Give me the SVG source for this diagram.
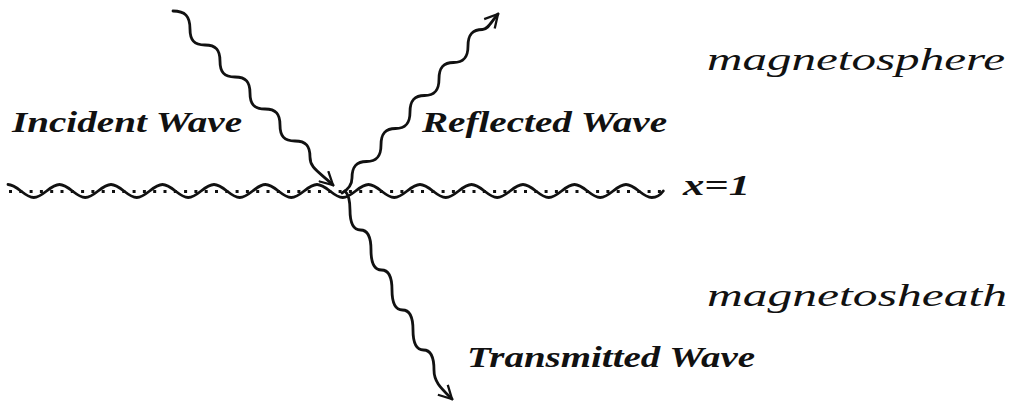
<svg xmlns="http://www.w3.org/2000/svg" width="1019" height="403" viewBox="0 0 1019 403">
  <style>
    .wave { fill: none; stroke: #111; stroke-width: 2.8; stroke-linecap: round; stroke-linejoin: round; }
    .dots { fill: none; stroke: #111; stroke-width: 3; stroke-dasharray: 3 7.3; }
    .lbl { font-family: "Liberation Serif", "Times New Roman", serif; font-style: italic; font-weight: bold; font-size: 30px; fill: #111; }
    .region { font-family: "Liberation Serif", "Times New Roman", serif; font-style: italic; font-size: 32px; fill: #111; }
  </style>
  <defs>
    <marker id="vhead" markerUnits="userSpaceOnUse" viewBox="0 0 16 16" markerWidth="16" markerHeight="16" refX="14" refY="8" orient="auto">
      <path d="M1,1 L14,8 L1,15" fill="none" stroke="#111" stroke-width="2.3" stroke-linejoin="miter"/>
    </marker>
  </defs>
  <rect width="1019" height="403" fill="#fff"/>

  <g id="boundary">
    <line class="dots" x1="9" y1="191.5" x2="666" y2="191.5"/>
    <path class="wave" d="M8,184.5 c9.3,0 16.45,13 25.75,13 c9.3,0 16.45,-13 25.75,-13 c9.3,0 16.45,13 25.75,13 c9.3,0 16.45,-13 25.75,-13 c9.3,0 16.45,13 25.75,13 c9.3,0 16.45,-13 25.75,-13 c9.3,0 16.45,13 25.75,13 c9.3,0 16.45,-13 25.75,-13 c9.3,0 16.45,13 25.75,13 c9.3,0 16.45,-13 25.75,-13 c9.3,0 16.45,13 25.75,13 c9.3,0 16.45,-13 25.75,-13 c9.3,0 16.45,13 25.75,13 c9.3,0 16.45,-13 25.75,-13 c9.3,0 16.45,13 25.75,13 c9.3,0 16.45,-13 25.75,-13 c9.3,0 16.45,13 25.75,13 c9.3,0 16.45,-13 25.75,-13 c9.3,0 16.45,13 25.75,13 c9.3,0 16.45,-13 25.75,-13 c9.3,0 16.45,13 25.75,13 c9.3,0 16.45,-13 25.75,-13 c9.3,0 16.45,13 25.75,13 c9.3,0 16.45,-13 25.75,-13 c9.3,0 16.45,13 25.75,13 c5,0 9,-3 11.5,-6.5"/>
  </g>

  <g id="connectors">
    <path id="incident-wave" class="wave" marker-end="url(#vhead)" d="M173,11 c12,0 17,5 17,18 c0,11 4,16 15,16 c11,0 15,5 15,16 c0,11 4,16 15,16 c11,0 15,5 15,16 c0,11 4,16 15,16 c11,0 15,5 15,16 c0,11 4,16 15,16 c11,0 15,5 15,16 C310,168 318,171 333,185"/>
    <path id="reflected-wave" class="wave" marker-end="url(#vhead)" d="M342,193 C349,189 352,184 352,178 c0,-11 4,-16.5 14.5,-16.5 c10.5,0 14.5,-5.5 14.5,-16.5 c0,-11 4,-16.5 14.5,-16.5 c10.5,0 14.5,-5.5 14.5,-16.5 c0,-11 4,-16.5 14.5,-16.5 c10.5,0 14.5,-5.5 14.5,-16.5 c0,-11 4,-16.5 14.5,-16.5 c10.5,0 14.5,-5.5 14.5,-16.5 c0,-11 4,-16.5 14.5,-16.5 C488,29.5 491,22 498,14"/>
    <path id="transmitted-wave" class="wave" marker-end="url(#vhead)" d="M345,191 C349,195 350,202 350,210 c0,13 3.5,20 10.5,20 c7,0 10.5,7 10.5,20 c0,13 3.5,20 10.5,20 c7,0 10.5,7 10.5,20 c0,13 3.5,20 10.5,20 c7,0 10.5,7 10.5,20 c0,13 3.5,20 10.5,20 c7,0 10.5,7 10.5,20 C434,382 441,388 452,399"/>
  </g>

  <g id="label-incident"><text class="lbl" x="12" y="132" textLength="230" lengthAdjust="spacingAndGlyphs">Incident Wave</text></g>
  <g id="label-reflected"><text class="lbl" x="422" y="132" textLength="245" lengthAdjust="spacingAndGlyphs">Reflected Wave</text></g>
  <g id="label-transmitted"><text class="lbl" x="467" y="367" textLength="288" lengthAdjust="spacingAndGlyphs">Transmitted Wave</text></g>
  <g id="label-x1"><text class="lbl" x="683" y="195" textLength="67" lengthAdjust="spacingAndGlyphs">x=1</text></g>
  <g id="region-magnetosphere"><text class="region" x="707" y="70" textLength="298" lengthAdjust="spacingAndGlyphs">magnetosphere</text></g>
  <g id="region-magnetosheath"><text class="region" x="707" y="306" textLength="300" lengthAdjust="spacingAndGlyphs">magnetosheath</text></g>
</svg>
